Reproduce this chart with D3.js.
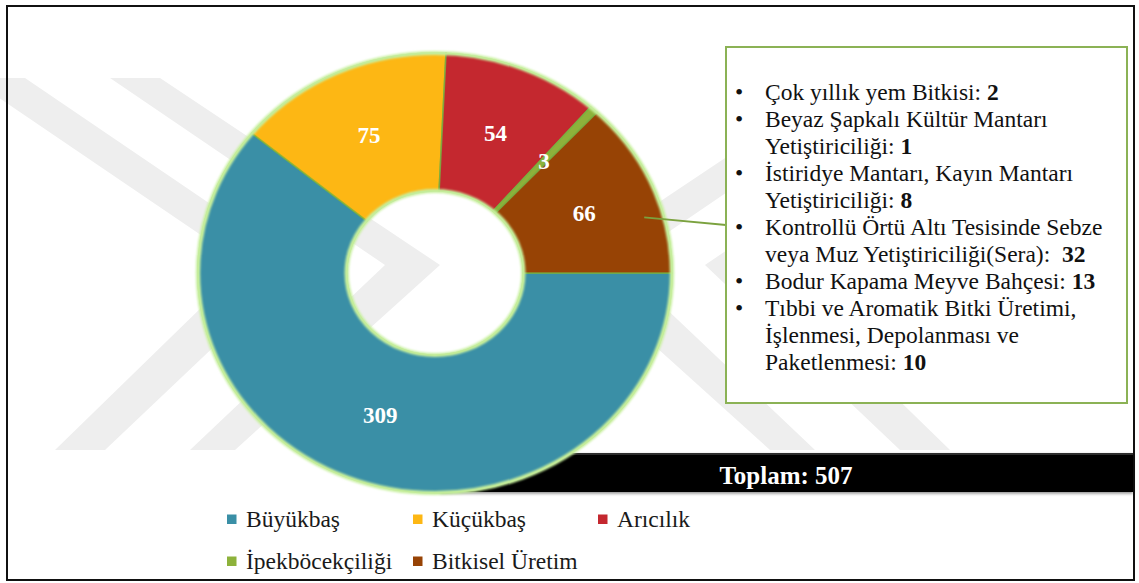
<!DOCTYPE html>
<html>
<head>
<meta charset="utf-8">
<script src="https://cdn.jsdelivr.net/npm/d3@7"></script>
<style>
  body { margin: 0; background: #fff; }
  svg { display: block; }
</style>
</head>
<body>
<div id="chart"></div>
<script>
// values
const categories = ['Büyükbaş', 'Küçükbaş', 'Arıcılık', 'İpekböcekçiliği', 'Bitkisel Üretim'];
const values = [309, 75, 54, 3, 66];
const sliceColors = ['#3a8fa6', '#fdb714', '#c4282f', '#8db23b', '#974305'];

// breakdown of "Bitkisel Üretim" shown in the box (each item may wrap on several lines)
const detailLabels = [
    ['Çok yıllık yem Bitkisi: '],
    ['Beyaz Şapkalı Kültür Mantarı', 'Yetiştiriciliği: '],
    ['İstiridye Mantarı, Kayın Mantarı', 'Yetiştiriciliği: '],
    ['Kontrollü Örtü Altı Tesisinde Sebze', 'veya Muz Yetiştiriciliği(Sera):  '],
    ['Bodur Kapama Meyve Bahçesi: '],
    ['Tıbbi ve Aromatik Bitki Üretimi,', 'İşlenmesi, Depolanması ve', 'Paketlenmesi: ']
];
const detailValues = [2, 1, 8, 32, 13, 10];
const totalLabel = 'Toplam: ';

(function () {
    const width = 1139;
    const height = 583;

    const svg = d3.select('#chart')
        .append('svg')
        .attr('width', width)
        .attr('height', height)
        .attr('font-family', '"Liberation Serif", "Times New Roman", "DejaVu Serif", serif');

    const defs = svg.append('defs');
    defs.append('filter')
        .attr('id', 'glow')
        .attr('x', '-10%').attr('y', '-10%').attr('width', '120%').attr('height', '120%')
        .append('feGaussianBlur')
        .attr('stdDeviation', 1.2);

    const barShadow = defs.append('filter')
        .attr('id', 'barShadow')
        .attr('x', '-5%').attr('y', '-30%').attr('width', '110%').attr('height', '160%');
    barShadow.append('feDropShadow')
        .attr('dx', 0).attr('dy', 1.5).attr('stdDeviation', 1.5)
        .attr('flood-color', '#000').attr('flood-opacity', 0.45);

    // faint watermark chevrons in the background
    const watermark = [
        [[-30, 78], [25, 78], [300, 265], [105, 450], [55, 450], [245, 265]],
        [[110, 78], [160, 78], [440, 265], [235, 450], [190, 450], [385, 265]]
    ];
    const mirrorX = 1005;
    const wm = svg.append('g').attr('fill', '#eeeeee');
    watermark.forEach(poly => {
        wm.append('polygon').attr('points', poly.map(p => p.join(',')).join(' '));
        wm.append('polygon').attr('points', poly.map(p => [mirrorX - p[0], p[1]].join(',')).join(' '));
    });

    // frame
    svg.append('rect')
        .attr('x', 7).attr('y', 6)
        .attr('width', 1127).attr('height', 574)
        .attr('fill', 'none')
        .attr('stroke', '#111')
        .attr('stroke-width', 2);

    // "Toplam" bar (sits behind the donut)
    svg.append('rect')
        .attr('x', 440).attr('y', 453)
        .attr('width', 693).attr('height', 39)
        .attr('fill', '#050505')
        .attr('filter', 'url(#barShadow)');
    svg.append('line')
        .attr('x1', 440).attr('x2', 1133)
        .attr('y1', 454).attr('y2', 454)
        .attr('stroke', '#5a5a5a')
        .attr('stroke-width', 1);
    svg.append('text')
        .attr('x', 786).attr('y', 484)
        .attr('text-anchor', 'middle')
        .attr('fill', '#fff')
        .attr('font-size', 25)
        .attr('font-weight', 'bold')
        .text(totalLabel + d3.sum(values));

    // donut
    const cx = 435, cy = 273;
    const rOuter = 220, rInner = 82;
    const stretch = 237 / 220;

    const pie = d3.pie()
        .sort(null)
        .startAngle(Math.PI / 2)
        .endAngle(Math.PI / 2 + 2 * Math.PI);
    const arcs = pie(values);

    const arc = d3.arc().innerRadius(rInner).outerRadius(rOuter);
    const labelArc = d3.arc()
        .innerRadius((rInner + rOuter) / 2)
        .outerRadius((rInner + rOuter) / 2);

    const donut = svg.append('g')
        .attr('transform', `translate(${cx},${cy}) scale(${stretch},1)`);

    donut.selectAll('path.slice')
        .data(arcs)
        .enter()
        .append('path')
        .attr('class', 'slice')
        .attr('d', arc)
        .attr('fill', (d, i) => sliceColors[i])
        .attr('stroke', '#78b040')
        .attr('stroke-opacity', 0.8)
        .attr('stroke-width', 1.5);

    // light green glow on the outer and inner rims
    donut.selectAll('circle.rim')
        .data([rOuter, rInner])
        .enter()
        .append('circle')
        .attr('class', 'rim')
        .attr('r', d => d)
        .attr('fill', 'none')
        .attr('stroke', '#c8f09f')
        .attr('stroke-width', 4)
        .attr('filter', 'url(#glow)');

    // value labels
    svg.append('g')
        .selectAll('text')
        .data(arcs)
        .enter()
        .append('text')
        .attr('x', d => cx + labelArc.centroid(d)[0] * stretch)
        .attr('y', d => cy + labelArc.centroid(d)[1] + 8)
        .attr('text-anchor', 'middle')
        .attr('fill', '#fff')
        .attr('font-size', 23)
        .attr('font-weight', 'bold')
        .text(d => d.data);

    // leader from "Bitkisel Üretim" to the box
    const last = arcs[arcs.length - 1];
    const la = (last.startAngle + last.endAngle) / 2 + 0.13;
    const lr = rOuter - 18;
    svg.append('line')
        .attr('x1', cx + Math.sin(la) * lr * stretch)
        .attr('y1', cy - Math.cos(la) * lr)
        .attr('x2', 726)
        .attr('y2', 225)
        .attr('stroke', '#7ba23f')
        .attr('stroke-width', 2);

    // breakdown box
    svg.append('rect')
        .attr('x', 726).attr('y', 47)
        .attr('width', 401).attr('height', 356)
        .attr('fill', '#fff')
        .attr('stroke', '#8bb255')
        .attr('stroke-width', 2);

    const box = svg.append('g').attr('font-size', 23.5).attr('fill', '#111');
    let line = 0;
    detailLabels.forEach((lines, i) => {
        box.append('text')
            .attr('x', 735).attr('y', 100 + line * 27)
            .text('•');
        lines.forEach((t, j) => {
            const txt = box.append('text')
                .attr('x', 765)
                .attr('y', 100 + (line + j) * 27)
                .style('white-space', 'pre');
            txt.append('tspan').text(t);
            if (j === lines.length - 1) {
                txt.append('tspan').attr('font-weight', 'bold').text(detailValues[i]);
            }
        });
        line += lines.length;
    });

    // legend
    const legendPos = [[227, 519], [413, 519], [598, 519], [227, 561], [413, 561]];
    const legend = svg.append('g')
        .selectAll('g')
        .data(categories)
        .enter()
        .append('g')
        .attr('transform', (d, i) => `translate(${legendPos[i][0]},${legendPos[i][1]})`);
    legend.append('rect')
        .attr('x', 0).attr('y', -4.5)
        .attr('width', 9.5).attr('height', 9.5)
        .attr('fill', (d, i) => sliceColors[i]);
    legend.append('text')
        .attr('x', 19).attr('y', 8)
        .attr('font-size', 23.5)
        .attr('fill', '#1a1a1a')
        .text(d => d);
})();
</script>
</body>
</html>
